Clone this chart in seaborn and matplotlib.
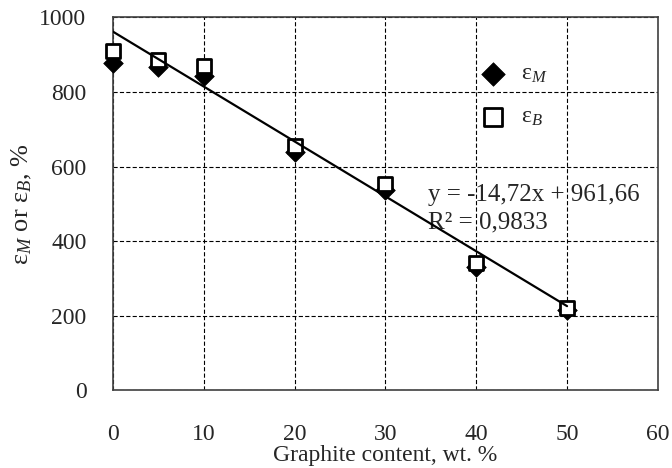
import numpy as np
import pandas as pd
import seaborn as sns
import matplotlib
matplotlib.use("Agg")
from matplotlib import pyplot as plt

# data
graphite = [0, 5, 10, 20, 30, 40, 50]
eps_m = [878, 868, 843, 640, 538, 330, 215]
eps_b = [911, 886, 869, 655, 552, 342, 221]

# linear trend shown on the chart
slope = -14.72
intercept = 961.66
eq_text = "y = -14,72x + 961,66\nR² = 0,9833"

x_ticks = [0, 10, 20, 30, 40, 50, 60]
y_ticks = [0, 200, 400, 600, 800, 1000]

sns.set_style("white")
plt.rcParams['font.family'] = ['Liberation Serif', 'DejaVu Serif']
plt.rcParams['mathtext.fontset'] = 'custom'
plt.rcParams['mathtext.rm'] = 'Liberation Serif'
plt.rcParams['mathtext.it'] = 'Liberation Serif:italic'
plt.rcParams['lines.scale_dashes'] = False

df = pd.DataFrame({'x': graphite, 'm': eps_m, 'b': eps_b})

fig = plt.figure(figsize=(6.72, 4.68), dpi=100)
ax = fig.add_axes([0.168, 0.166, 0.811, 0.797])

sns.scatterplot(data=df, x='x', y='m', marker='D', s=100, color='black',
                edgecolor='black', linewidth=0.5, label=r'ε$_{M}$',
                clip_on=False, zorder=3, ax=ax)
sns.scatterplot(data=df, x='x', y='b', marker='s', s=115, facecolor='white',
                edgecolor='black', linewidth=2, label=r'ε$_{B}$',
                clip_on=False, zorder=4, ax=ax)

# trend line over the data range
xs = np.array([df['x'].min(), df['x'].max()])
sns.lineplot(x=xs, y=slope * xs + intercept, color='black', linewidth=1.6,
             zorder=5, ax=ax)

ax.text(34.7, 553, eq_text, fontsize=18, va='top', ha='left',
        linespacing=1.3)

ax.set_xlim(0, 60)
ax.set_ylim(0, 1000)
ax.set_xticks(x_ticks)
ax.set_yticks(y_ticks)
ax.tick_params(axis='x', length=0, pad=24, labelsize=17)
ax.tick_params(axis='y', length=0, pad=19, labelsize=17)

ax.grid(True, color='black', linestyle=(0, (3, 1.6)), linewidth=0.8)
ax.set_axisbelow(True)
for sp in ax.spines.values():
    sp.set_color('#404040')
    sp.set_linewidth(1.2)

ax.set_xlabel('Graphite content, wt. %', fontsize=17, labelpad=0)
ax.set_ylabel(r'ε$_{M}$ or ε$_{B}$, %', fontsize=19, labelpad=4)

ax.legend(loc='upper left', bbox_to_anchor=(0.675, 0.877), frameon=False,
          fontsize=17, borderaxespad=0, borderpad=0, handlelength=1,
          handletextpad=0.7, labelspacing=0.9, scatterpoints=1,
          markerscale=1.2)

plt.savefig('out.png', dpi=100)
